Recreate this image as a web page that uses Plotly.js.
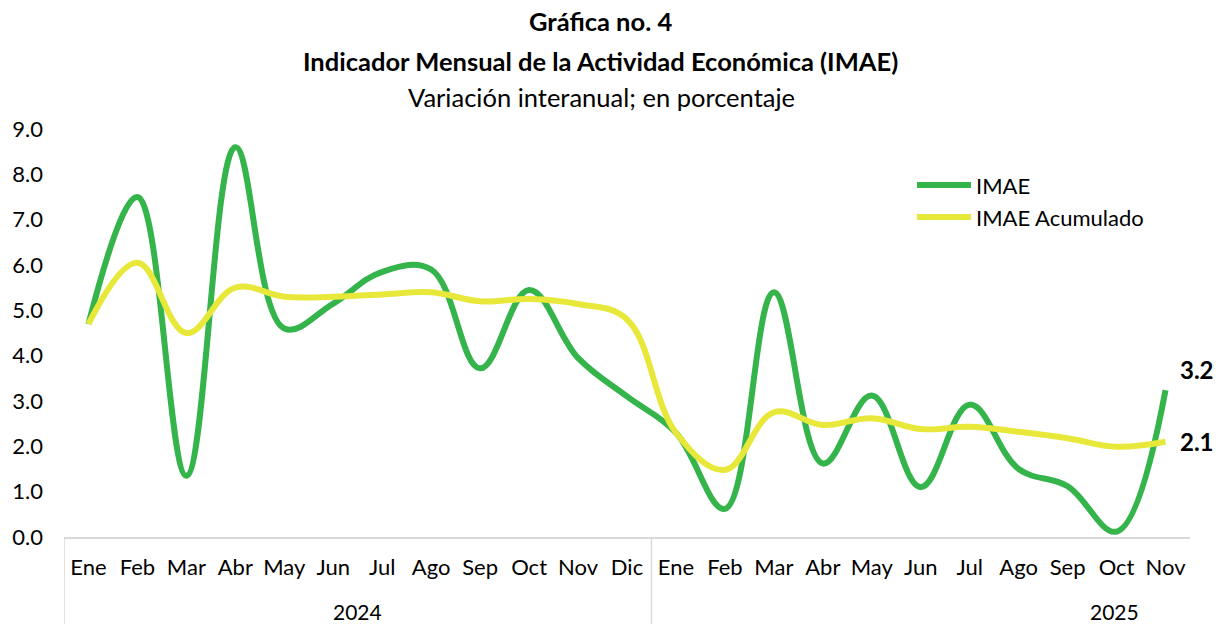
<!DOCTYPE html>
<html>
<head>
<meta charset="utf-8">
<script src="https://cdn.plot.ly/plotly-3.0.1.min.js"></script>
<style>html,body{margin:0;padding:0;background:#fff;}#chart{width:1218px;height:624px;}</style>
</head>
<body>
<div id="chart"></div>
<script>
const months = ['Ene','Feb','Mar','Abr','May','Jun','Jul','Ago','Sep','Oct','Nov','Dic','Ene','Feb','Mar','Abr','May','Jun','Jul','Ago','Sep','Oct','Nov'];
const years = ['2024','2025'];
const imae = [4.7,7.5,1.35,8.6,4.6,5.15,5.85,5.9,3.72,5.45,3.95,3.1,2.3,0.62,5.4,1.62,3.12,1.1,2.92,1.5,1.12,0.12,3.24];
const imaeAcum = [4.7,6.05,4.5,5.5,5.3,5.3,5.35,5.4,5.2,5.25,5.14,4.8,2.3,1.48,2.75,2.47,2.62,2.38,2.43,2.32,2.18,1.99,2.1];
const seriesNames = ['IMAE','IMAE Acumulado'];
const colors = ['#34b44a','#e8e83a'];

const FONT = 'Lato, "Open Sans", sans-serif';
const idx = months.map((_, i) => i);

const traces = [
  {x: idx, y: imae, name: seriesNames[0], type: 'scatter', mode: 'lines',
   line: {color: colors[0], width: 6, shape: 'spline', smoothing: 1.1}, showlegend: false},
  {x: idx, y: imaeAcum, name: seriesNames[1], type: 'scatter', mode: 'lines',
   line: {color: colors[1], width: 6, shape: 'spline', smoothing: 1.1}, showlegend: false}
];

const plotTop = 129, plotBottom = 537, plotH = plotBottom - plotTop;
const py = y => (plotBottom - y) / plotH;
const L = 64, R = 28, W = 1218;
const px = x => (x - L) / (W - L - R);

const annotations = [
  {text: '<b>Gráfica no. 4</b>', x: px(600), y: py(21)},
  {text: '<b>Indicador Mensual de la Actividad Económica (IMAE)</b>', x: px(600), y: py(61)},
  {text: 'Variación interanual; en porcentaje', x: px(601), y: py(97)}
].map(a => Object.assign(a, {xref: 'paper', yref: 'paper', showarrow: false, xanchor: 'center', yanchor: 'middle', font: {family: FONT, size: 25.5, color: '#000'}}));

// year labels
annotations.push({text: years[0], xref: 'x', x: 5.5, yref: 'paper', y: py(611), showarrow: false, xanchor: 'center', yanchor: 'middle', font: {family: FONT, size: 21, color: '#000'}});
annotations.push({text: years[1], xref: 'x', x: 20.95, yref: 'paper', y: py(611), showarrow: false, xanchor: 'center', yanchor: 'middle', font: {family: FONT, size: 21, color: '#000'}});

// end labels
const last = months.length - 1;
annotations.push({text: '<b>' + imae[last].toFixed(1) + '</b>', xref: 'x', x: last, yref: 'y', y: imae[last], xanchor: 'left', yanchor: 'middle', xshift: 12, yshift: 21, showarrow: false, font: {family: FONT, size: 24, color: '#000'}});
annotations.push({text: '<b>' + imaeAcum[last].toFixed(1) + '</b>', xref: 'x', x: last, yref: 'y', y: imaeAcum[last], xanchor: 'left', yanchor: 'middle', xshift: 12, yshift: 0, showarrow: false, font: {family: FONT, size: 24, color: '#000'}});

// legend (manual)
const legY = [185, 217];
const shapes = [];
seriesNames.forEach((n, i) => {
  shapes.push({type: 'line', xref: 'paper', yref: 'paper', x0: px(917), x1: px(971), y0: py(legY[i]), y1: py(legY[i]), line: {color: colors[i], width: 6}});
  annotations.push({text: n, xref: 'paper', yref: 'paper', x: px(974), y: py(legY[i]), xanchor: 'left', yanchor: 'middle', showarrow: false, font: {family: FONT, size: 22, color: '#000'}});
});

// category group dividers
[-0.5, 11.5].forEach(v => shapes.push({type: 'line', xref: 'x', yref: 'paper', x0: v, x1: v, y0: 0, y1: py(624), line: {color: '#d9d9d9', width: 1.5}}));

const layout = {
  width: 1218, height: 624,
  margin: {l: L, r: R, t: plotTop, b: 624 - plotBottom, pad: 0},
  paper_bgcolor: '#fff', plot_bgcolor: '#fff',
  font: {family: FONT, size: 22, color: '#000'},
  xaxis: {
    range: [-0.5, 22.5], tickmode: 'array', tickvals: idx, ticktext: months,
    showgrid: false, zeroline: false, showline: true, linecolor: '#d9d9d9', linewidth: 1.5,
    ticks: '', ticklabelstandoff: 10, tickfont: {family: FONT, size: 22, color: '#000'}, fixedrange: true
  },
  yaxis: {
    range: [0, 9], dtick: 1, tick0: 0, tickformat: '.1f',
    showgrid: false, zeroline: false, showline: false, ticks: '', ticklabelstandoff: 20,
    tickfont: {family: FONT, size: 22, color: '#000'}, fixedrange: true
  },
  showlegend: false,
  annotations: annotations,
  shapes: shapes
};

Plotly.newPlot('chart', traces, layout, {displayModeBar: false, staticPlot: true});
</script>
</body>
</html>
